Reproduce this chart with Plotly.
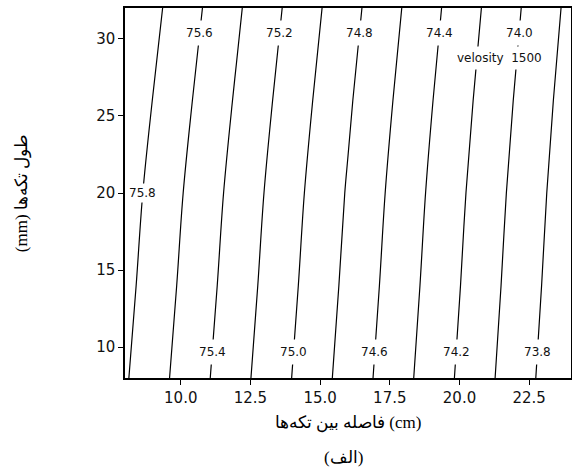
import numpy as np
import plotly.graph_objects as go

# Grid of estimated response values (read from the contour positions)
x_vals = [8, 12, 16, 20, 24]          # فاصله بین تکه‌ها (cm)
y_vals = [8, 14, 20, 26, 32]          # طول تکه‌ها (mm)
z_y8  = [75.819, 75.271, 74.723, 74.175, 73.627]
z_y14 = [75.855, 75.305, 74.755, 74.205, 73.655]
z_y20 = [75.888, 75.336, 74.784, 74.232, 73.680]
z_y26 = [75.936, 75.380, 74.824, 74.268, 73.712]
z_y32 = [75.989, 75.429, 74.870, 74.310, 73.750]
z_grid = [z_y8, z_y14, z_y20, z_y26, z_y32]

levels_top = [75.6, 75.2, 74.8, 74.4, 74.0]
levels_bottom = [75.4, 75.0, 74.6, 74.2, 73.8]
levels_mid = [75.8]
x_ticks = [10.0, 12.5, 15.0, 17.5, 20.0, 22.5]
y_ticks = [10, 15, 20, 25, 30]
hold_text = "velosity\u00a0\u00a01500"

Z = np.array(z_grid)
YV = np.array(y_vals, dtype=float)
XV = np.array(x_vals, dtype=float)


def level_x(level, y):
    row = np.array([np.interp(y, YV, Z[:, j]) for j in range(len(XV))])
    return float(np.interp(level, row[::-1], XV[::-1]))


fig = go.Figure()
fig.add_trace(go.Contour(
    x=x_vals, y=y_vals, z=z_grid,
    contours=dict(start=73.8, end=75.8, size=0.2, coloring="lines", showlabels=False),
    colorscale=[[0, "black"], [1, "black"]],
    line=dict(width=1.2, color="black"),
    showscale=False, hoverinfo="skip",
))

lab_font = dict(family="DejaVu Sans", size=12, color="#111")
annotations = []
for lv_list, yy, pad in [(levels_top, 30.4, 5), (levels_bottom, 9.7, 5), (levels_mid, 20.0, 2)]:
    for lv in lv_list:
        annotations.append(dict(
            x=level_x(lv, yy), y=yy, xref="x", yref="y", text=f"{lv:.1f}",
            showarrow=False, font=lab_font, bgcolor="white", borderpad=pad,
        ))
annotations.append(dict(
    x=21.45, y=28.75, xref="x", yref="y", text=hold_text, showarrow=False,
    font=lab_font, bgcolor="white", borderpad=4,
))
annotations.append(dict(
    x=0.49, y=-0.216, xref="paper", yref="paper", text="(الف)", showarrow=False,
    font=dict(family="Liberation Serif", size=17, color="black"), yanchor="middle",
))

fig.update_layout(
    width=572, height=475,
    margin=dict(l=125, r=1, t=8, b=97),
    paper_bgcolor="white", plot_bgcolor="white",
    showlegend=False,
    annotations=annotations,
    xaxis=dict(
        range=[8, 24], tickvals=x_ticks, tickformat=".1f", automargin=False,
        showline=True, mirror=True, linecolor="black", linewidth=1.5,
        ticks="outside", ticklen=5, tickcolor="black", showgrid=False, zeroline=False,
        tickfont=dict(family="DejaVu Sans", size=15, color="#111"),
        title=dict(text="فاصله بین تکه‌ها (cm)", standoff=10,
                   font=dict(family="Liberation Serif", size=17, color="black")),
    ),
    yaxis=dict(
        range=[8, 32], tickvals=y_ticks, automargin=False,
        showline=True, mirror=True, linecolor="black", linewidth=1.5,
        ticks="outside", ticklen=5, tickcolor="black", showgrid=False, zeroline=False,
        tickfont=dict(family="DejaVu Sans", size=15, color="#111"),
        title=dict(text="(mm) طول تکه‌ها", standoff=64,
                   font=dict(family="Liberation Serif", size=17, color="black")),
    ),
)

fig.write_html(
    "out.html",
    config={"displayModeBar": False},
    post_script="document.body.style.margin='0';document.body.style.overflow='hidden';",
)
